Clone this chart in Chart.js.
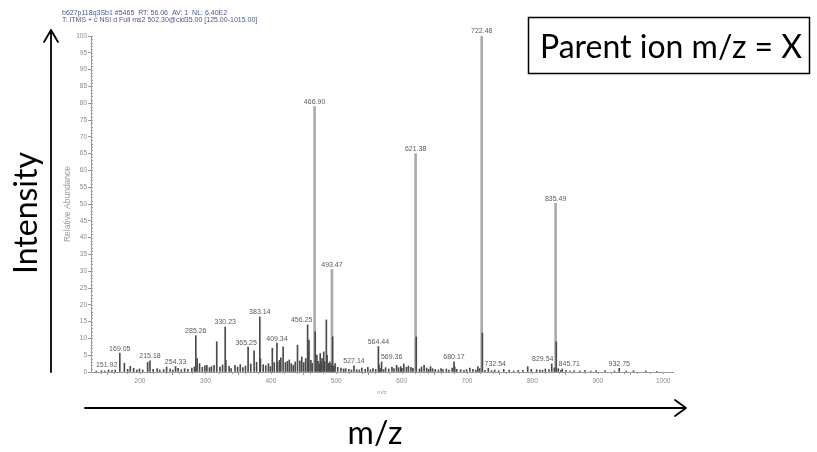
<!DOCTYPE html>
<html>
<head>
<meta charset="utf-8">
<script src="https://cdn.jsdelivr.net/npm/chart.js@4/dist/chart.umd.min.js"></script>
<style>
  html, body { margin: 0; padding: 0; background: #fff; }
  #wrap { width: 817px; height: 452px; position: relative; }
</style>
</head>
<body>
<div id="wrap"><canvas id="spectrum" width="817" height="452"></canvas></div>
<script>
// MS2 spectrum of precursor 502.30 (CID 35): centroid peaks, m/z vs relative abundance (%)

// Annotated fragment ions
const labelledMz = [151.92, 169.05, 215.18, 254.33, 285.26, 330.23, 365.25, 383.14, 409.34, 456.25,
  466.90, 493.47, 527.14, 564.44, 569.36, 621.38, 680.17, 722.48, 732.54, 829.54, 835.49, 845.71, 932.75];
const labelledAbundance = [0.6, 5.6, 3.3, 1.6, 10.8, 13.4, 7.4, 16.4, 8.6, 14.0,
  79.0, 30.5, 1.8, 7.6, 3.0, 65.0, 3.0, 100.0, 1.1, 2.4, 50.2, 0.9, 1.1];

// Remaining (unannotated) centroids
const otherMz = [133.1, 141.1, 146.1, 157.1, 162.0, 176.0, 181.1, 185.1, 190.2, 195.0, 199.1, 204.1, 211.6,
  220.1, 226.2, 230.1, 236.2, 240.6, 246.1, 250.2, 258.2, 263.1, 268.2, 273.2, 279.2, 283.2, 287.3, 291.0,
  295.2, 299.1, 302.2, 306.2, 309.2, 313.2, 317.3, 322.2, 326.2, 331.2, 336.2, 339.3, 345.2, 349.2, 353.3,
  357.2, 361.2, 369.3, 374.4, 378.2, 384.1, 388.3, 392.2, 396.3, 399.3, 402.3, 405.3, 410.3, 413.3, 415.3,
  418.8, 422.3, 425.3, 428.2, 431.3, 434.3, 437.3, 440.8, 444.3, 447.3, 450.3, 453.3, 457.3, 458.3, 461.3,
  463.3, 467.9, 470.4, 472.3, 474.4, 475.5, 477.3, 478.3, 480.9, 482.3, 484.9, 486.0, 488.3, 490.2, 492.3,
  494.5, 496.3, 498.3, 502.3, 507.2, 511.3, 514.5, 519.3, 523.3, 531.3, 535.3, 539.1, 544.3, 548.3, 552.3,
  556.2, 560.3, 565.4, 567.3, 572.3, 575.5, 580.3, 585.2, 588.3, 592.3, 595.3, 598.6, 600.3, 603.3, 607.3,
  610.4, 614.3, 617.3, 622.4, 627.3, 630.4, 634.4, 638.3, 641.3, 644.2, 647.3, 651.4, 656.3, 660.3, 663.3,
  668.4, 672.3, 677.2, 681.2, 684.3, 690.3, 695.3, 699.3, 704.4, 709.0, 713.3, 716.5, 719.3, 723.5, 727.4,
  737.4, 742.3, 748.4, 756.1, 764.4, 771.4, 778.4, 785.4, 792.8, 798.2, 806.5, 811.4, 815.4, 819.8, 825.4,
  833.5, 836.5, 839.6, 843.5, 851.3, 857.4, 863.8, 872.4, 880.3, 889.4, 897.6, 911.2, 925.4, 943.4, 954.6,
  973.4, 990.4];
const otherAbundance = [0.3, 0.4, 0.3, 0.5, 0.6, 2.6, 0.8, 1.7, 1.1, 0.6, 0.9, 0.6, 2.9,
  0.8, 1.0, 0.6, 0.7, 1.5, 0.9, 0.6, 1.1, 0.7, 1.0, 0.8, 1.2, 1.5, 4.0, 2.5,
  1.4, 1.8, 2.0, 1.3, 1.6, 2.0, 9.0, 1.5, 2.1, 3.5, 1.7, 1.0, 2.0, 1.5, 2.2,
  1.3, 1.8, 2.4, 6.3, 2.9, 4.0, 2.2, 1.9, 2.5, 1.6, 7.1, 2.8, 3.0, 3.5, 4.2,
  7.5, 2.8, 3.2, 3.6, 2.5, 2.0, 3.0, 8.0, 3.3, 4.5, 2.8, 4.0, 6.0, 9.5, 3.5,
  2.6, 12.0, 5.0, 3.2, 2.4, 5.5, 2.8, 4.0, 6.0, 3.1, 15.5, 5.0, 2.6, 3.0, 2.2,
  10.5, 1.7, 2.5, 1.4, 1.2, 0.9, 1.0, 0.8, 0.6, 0.7, 0.6, 1.2, 0.8, 1.4, 0.7,
  1.0, 0.8, 2.2, 1.0, 0.7, 1.3, 0.9, 1.5, 1.0, 2.0, 1.3, 1.6, 1.1, 2.4, 1.4,
  1.8, 1.4, 1.1, 10.4, 0.9, 1.5, 2.0, 1.2, 0.8, 1.6, 1.0, 0.8, 0.6, 1.0, 0.7,
  0.9, 0.6, 1.2, 1.5, 0.8, 0.7, 0.5, 0.7, 1.2, 0.8, 0.6, 1.6, 1.0, 11.6, 0.5,
  0.4, 0.6, 0.4, 0.8, 0.6, 0.3, 0.5, 0.5, 1.6, 0.8, 0.7, 0.6, 0.5, 0.9, 0.7,
  1.2, 9.0, 1.0, 0.5, 0.5, 0.3, 0.4, 0.3, 0.5, 0.3, 0.4, 0.4, 0.3, 0.3, 0.4,
  0.3, 0.2];

// Axis ticks
const xTickValues = [200, 300, 400, 500, 600, 700, 800, 900, 1000];
const yTickValues = [0, 5, 10, 15, 20, 25, 30, 35, 40, 45, 50, 55, 60, 65, 70, 75, 80, 85, 90, 95, 100];

// Scan header lines
const headerLines = [
  'b627p118q3Sb1 #5465  RT: 56.06  AV: 1  NL: 6.40E2',
  'T: ITMS + c NSI d Full ms2 502.30@cid35.00 [125.00-1015.00]'
];

const peaks = labelledMz.map((x, i) => ({ x, y: labelledAbundance[i] }))
  .concat(otherMz.map((x, i) => ({ x, y: otherAbundance[i] })))
  .sort((a, b) => a.x - b.x);

// tall sticks are drawn wider and lighter, the low-level ones thin and dark
const tallPeaks = peaks.filter(p => p.y >= 20);
const lowPeaks = peaks.filter(p => p.y < 20);

const SMALL = '"Liberation Sans", Arial, sans-serif';
const BIG = 'Lato, "Open Sans", sans-serif';

// Minor ruler ticks along both axes
const minorTicks = {
  id: 'minorTicks',
  afterDraw(chart) {
    const { ctx, scales: { x, y } } = chart;
    ctx.save();
    ctx.strokeStyle = '#9a9a9a';
    ctx.lineWidth = 1;
    ctx.beginPath();
    for (let v = 0; v <= 100; v += 1) {
      const py = Math.round(y.getPixelForValue(v)) + 0.5;
      ctx.moveTo(x.left, py);
      ctx.lineTo(x.left + 2, py);
    }
    for (let v = 140; v <= 1010; v += 20) {
      const px = Math.round(x.getPixelForValue(v)) + 0.5;
      ctx.moveTo(px, y.bottom);
      ctx.lineTo(px, y.bottom + 2);
    }
    ctx.stroke();
    ctx.restore();
  }
};

// m/z labels over annotated peaks, nudged sideways when they would hit a taller peak or another label
const peakLabels = {
  id: 'peakLabels',
  afterDatasetsDraw(chart) {
    const { ctx, scales: { x, y } } = chart;
    ctx.save();
    ctx.font = '7px ' + SMALL;
    ctx.fillStyle = '#5a5a5a';
    ctx.textAlign = 'center';
    ctx.textBaseline = 'bottom';
    const bars = peaks.map(p => ({ px: x.getPixelForValue(p.x), py: y.getPixelForValue(p.y) }));
    const placed = [];
    const order = labelledMz.map((m, i) => i).sort((a, b) => labelledAbundance[b] - labelledAbundance[a]);
    const hit = (l, r, t, b) => {
      if (placed.some(q => l < q.r && r > q.l && t < q.b && b > q.t)) return true;
      return bars.some(bb => bb.px + 1 > l && bb.px - 1 < r && bb.py < b);
    };
    order.forEach(i => {
      const text = labelledMz[i].toFixed(2);
      const w = ctx.measureText(text).width;
      const x0 = x.getPixelForValue(labelledMz[i]);
      const bottom = y.getPixelForValue(labelledAbundance[i]) - 2;
      const top = bottom - 7;
      let cx = x0;
      for (let k = 0; k <= 40; k++) {
        const shifts = k === 0 ? [0] : [k, -k];
        let done = false;
        for (const s of shifts) {
          const c = x0 + s;
          if (!hit(c - w / 2 - 1, c + w / 2 + 1, top, bottom)) { cx = c; done = true; break; }
        }
        if (done) break;
      }
      placed.push({ l: cx - w / 2 - 1, r: cx + w / 2 + 1, t: top, b: bottom });
      ctx.fillText(text, cx, bottom + 1);
    });
    ctx.restore();
  }
};

// Scan header, axis arrows and captions
const captions = {
  id: 'captions',
  afterDraw(chart) {
    const { ctx } = chart;
    ctx.save();
    // header
    ctx.font = '7px ' + SMALL;
    ctx.fillStyle = '#4a5888';
    ctx.textAlign = 'left';
    ctx.textBaseline = 'middle';
    ctx.fillText(headerLines[0], 62, 13);
    ctx.fillText(headerLines[1], 62, 20.5);

    // big captions share one size
    ctx.font = '100px ' + BIG;
    const parentText = 'Parent ion m/z = X';
    const size = 100 * 262 / ctx.measureText(parentText).width;
    ctx.font = size.toFixed(1) + 'px ' + BIG;
    ctx.fillStyle = '#000';
    ctx.textBaseline = 'alphabetic';
    ctx.textAlign = 'center';
    ctx.fillText(parentText, 671, 58);
    ctx.fillText('m/z', 375, 444);
    ctx.save();
    ctx.translate(37, 213);
    ctx.rotate(-Math.PI / 2);
    ctx.fillText('Intensity', 0, 0);
    ctx.restore();

    // parent ion box
    ctx.strokeStyle = '#000';
    ctx.lineWidth = 1.5;
    ctx.strokeRect(528.5, 17.5, 281, 56);

    // arrows
    ctx.lineWidth = 1.8;
    ctx.lineCap = 'round';
    ctx.lineJoin = 'round';
    ctx.beginPath();
    ctx.moveTo(51, 372); ctx.lineTo(51, 30);
    ctx.moveTo(44, 42); ctx.lineTo(51, 30); ctx.lineTo(58, 42);
    ctx.moveTo(85, 408); ctx.lineTo(686, 408);
    ctx.moveTo(675, 400); ctx.lineTo(686, 408); ctx.lineTo(675, 416);
    ctx.stroke();
    ctx.restore();
  }
};

new Chart(document.getElementById('spectrum'), {
  type: 'bar',
  data: {
    datasets: [
      { data: lowPeaks, barThickness: 1, backgroundColor: '#4a4a4a', borderWidth: 0, grouped: false },
      { data: tallPeaks, barThickness: 2, backgroundColor: '#ababab', borderWidth: 0, grouped: false }
    ]
  },
  options: {
    responsive: false,
    animation: false,
    events: [],
    layout: { padding: { left: 51, right: 144, top: 36, bottom: 56 } },
    plugins: { legend: { display: false }, tooltip: { enabled: false }, title: { display: false } },
    scales: {
      x: {
        type: 'linear',
        min: 125,
        max: 1015,
        offset: false,
        afterFit: s => { s.height = 24; },
        afterBuildTicks: s => { s.ticks = xTickValues.map(v => ({ value: v })); },
        ticks: { autoSkip: false, maxRotation: 0, padding: 2, color: '#8a8a8a', font: { family: SMALL, size: 6.5 },
          callback: v => String(v) },
        grid: { drawOnChartArea: false, drawTicks: true, tickLength: 3, color: '#9a9a9a' },
        border: { display: true, color: '#9a9a9a', width: 1 },
        title: { display: true, text: 'm/z', color: '#9a9a9a', font: { family: SMALL, size: 6 }, padding: { top: 4, bottom: 0 } }
      },
      y: {
        min: 0,
        max: 100,
        afterFit: s => { s.width = 40; },
        afterBuildTicks: s => { s.ticks = yTickValues.map(v => ({ value: v })); },
        ticks: { autoSkip: false, padding: 1, color: '#8a8a8a', font: { family: SMALL, size: 6.5 },
          callback: v => String(v) },
        grid: { drawOnChartArea: false, drawTicks: true, tickLength: 3, color: '#9a9a9a' },
        border: { display: true, color: '#9a9a9a', width: 1 },
        title: { display: true, text: 'Relative Abundance', color: '#9a9a9a', font: { family: SMALL, size: 8.5 }, padding: { top: 12, bottom: 0 } }
      }
    }
  },
  plugins: [minorTicks, peakLabels, captions]
});
</script>
</body>
</html>
